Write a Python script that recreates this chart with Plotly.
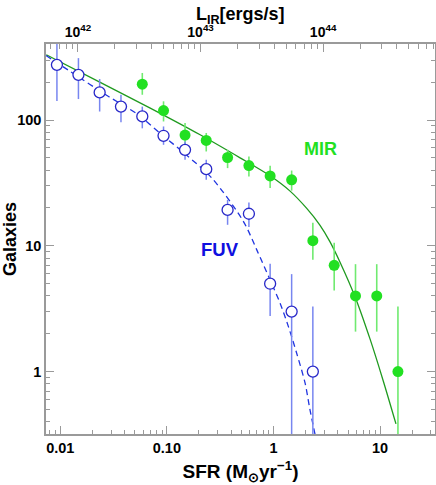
import plotly.graph_objects as go

# FUV counts (open circles), 0.2 dex SFR bins
fuv_sfr = [0.0093, 0.0148, 0.0234, 0.0371, 0.0588, 0.093, 0.148, 0.234, 0.371, 0.588, 0.93, 1.48, 2.34]
fuv_n = [275, 229, 166, 128, 107, 75, 58, 40.7, 19.3, 18, 5, 3, 1]
fuv_hi = [410, 311, 212, 159, 128, 89, 67.6, 48.3, 23.2, 22.1, 7.2, 5.96, 3.3]
fuv_lo = [142, 147, 117, 96, 86, 63.6, 48.3, 33.5, 14.7, 14.1, 2.77, 0.2, 0.2]

# MIR counts (filled circles)
mir_sfr = [0.0588, 0.093, 0.148, 0.234, 0.371, 0.588, 0.93, 1.48, 2.34, 3.71, 5.88, 9.3, 14.7]
mir_n = [193, 119, 76, 68.9, 50.4, 43.5, 36, 33.5, 11, 7, 4, 4, 1]
mir_hi = [237, 141, 95, 79, 58, 51.3, 43.3, 39.7, 15.3, 10.6, 7.15, 7.15, 3.3]
mir_lo = [159, 97.5, 60, 56.3, 41.5, 35.6, 28.8, 27.5, 7.74, 4.41, 2.08, 2.08, 0.2]

# fitted curves
mir_fit_sfr = [0.00739, 0.0237, 0.0698, 0.205, 0.486, 0.929, 1.431, 2.051, 2.734, 3.392,
               4.209, 5.818, 8.04, 10.71, 14.09]
mir_fit_n = [330.7, 199.5, 124.6, 76.4, 50.1, 36.06, 27.24, 19.84, 14.56, 10.76,
             7.42, 3.944, 1.82, 0.843, 0.384]
fuv_fit_sfr = [0.00735, 0.01241, 0.02838, 0.0524, 0.0898, 0.143, 0.264, 0.523, 0.697, 0.929,
               1.153, 1.38, 1.65, 1.98, 2.20, 2.45]
fuv_fit_n = [326, 243.6, 154, 112, 76.4, 55.2, 34.6, 15.6, 9.29, 5.36, 3.50, 2.28, 1.40, 0.809,
             0.496, 0.319]

sfr_ticks = [0.01, 0.1, 1, 10]
sfr_labels = ["0.01", "0.10", "1", "10"]
gal_ticks = [1, 10, 100]
gal_labels = ["1", "10", "100"]
lir_ticks = [1e42, 1e43, 1e44]
lir_labels = ["10<sup>42</sup>", "10<sup>43</sup>", "10<sup>44</sup>"]

AX = "#9a9a9a"
FONT = "Liberation Sans, Arial, sans-serif"


def minors(lo, hi):
    return [m * 10.0 ** e for e in range(lo, hi) for m in range(2, 10)]


fig = go.Figure()

fig.add_trace(go.Scatter(
    x=mir_fit_sfr, y=mir_fit_n, mode="lines",
    line=dict(color="#1f9a1f", width=1.3, shape="spline", smoothing=0.8),
))
fig.add_trace(go.Scatter(
    x=fuv_fit_sfr, y=fuv_fit_n, mode="lines",
    line=dict(color="#2035e0", width=1.3, dash="6px,4px", shape="spline", smoothing=0.8),
))

fig.add_trace(go.Scatter(
    x=mir_sfr, y=mir_n, mode="markers",
    marker=dict(symbol="circle", size=11, color="#22e022"),
    error_y=dict(
        type="data", symmetric=False,
        array=[h - n for h, n in zip(mir_hi, mir_n)],
        arrayminus=[n - l for n, l in zip(mir_n, mir_lo)],
        color="#70ea70", thickness=1.6, width=0,
    ),
))
fig.add_trace(go.Scatter(
    x=fuv_sfr, y=fuv_n, mode="markers",
    marker=dict(symbol="circle", size=11, color="white",
                line=dict(color="#2828c8", width=1.3)),
    error_y=dict(
        type="data", symmetric=False,
        array=[h - n for h, n in zip(fuv_hi, fuv_n)],
        arrayminus=[n - l for n, l in zip(fuv_n, fuv_lo)],
        color="#7886f0", thickness=1.5, width=0,
    ),
))

# dummy trace so the top L_IR axis exists
fig.add_trace(go.Scatter(x=[1e43], y=[10], xaxis="x2", mode="markers",
                         marker=dict(opacity=0), hoverinfo="skip"))

axis_common = dict(
    type="log", showgrid=False, zeroline=False, showline=True, automargin=False,
    linecolor=AX, linewidth=1.5, ticks="inside", ticklen=8, tickcolor=AX, tickwidth=1,
    tickmode="array", tickfont=dict(family=FONT, size=14.5, color="black", weight="bold"),
)

fig.update_layout(
    width=436, height=485,
    margin=dict(l=46, r=1, t=44, b=51),
    paper_bgcolor="white", plot_bgcolor="white",
    showlegend=False,
    xaxis=dict(
        axis_common, range=[-2.134, 1.515],
        tickvals=sfr_ticks, ticktext=sfr_labels,
        minor=dict(ticks="inside", ticklen=4.5, tickcolor=AX, tickmode="array",
                   tickvals=minors(-3, 2)),
        title=dict(text="SFR (M<sub>⊙</sub>yr<sup>−1</sup>)", standoff=13,
                   font=dict(family=FONT, size=19, color="black", weight="bold")),
    ),
    xaxis2=dict(
        axis_common, range=[41.739, 44.913], overlaying="x", side="top", anchor="y",
        tickvals=lir_ticks, ticktext=lir_labels,
        tickfont=dict(family=FONT, size=14, color="black", weight="bold"),
        minor=dict(ticks="inside", ticklen=5, tickcolor=AX, tickmode="array",
                   tickvals=minors(41, 45)),
    ),
    yaxis=dict(
        axis_common, range=[-0.496, 2.605], mirror="ticks",
        tickvals=gal_ticks, ticktext=gal_labels,
        minor=dict(ticks="inside", ticklen=4.5, tickcolor=AX, tickmode="array",
                   tickvals=minors(-1, 3)),
        title=dict(text="Galaxies", standoff=8,
                   font=dict(family=FONT, size=18, color="black", weight="bold")),
    ),
    annotations=[
        dict(x=0.5, y=1.108, xref="paper", yref="paper", text="L<sub>IR</sub>[ergs/s]",
             showarrow=False, yanchor="top",
             font=dict(family=FONT, size=18, color="black", weight="bold")),
        dict(x=0.437, y=1.769, xref="x", yref="y", text="MIR", showarrow=False,
             font=dict(family=FONT, size=18, color="#22e022", weight="bold")),
        dict(x=-0.5, y=0.974, xref="x", yref="y", text="FUV", showarrow=False,
             font=dict(family=FONT, size=18.5, color="#1010e0", weight="bold")),
    ],
)

fig.write_html("out.html", config={"displayModeBar": False},
               post_script="document.body.style.margin = '0px';")
